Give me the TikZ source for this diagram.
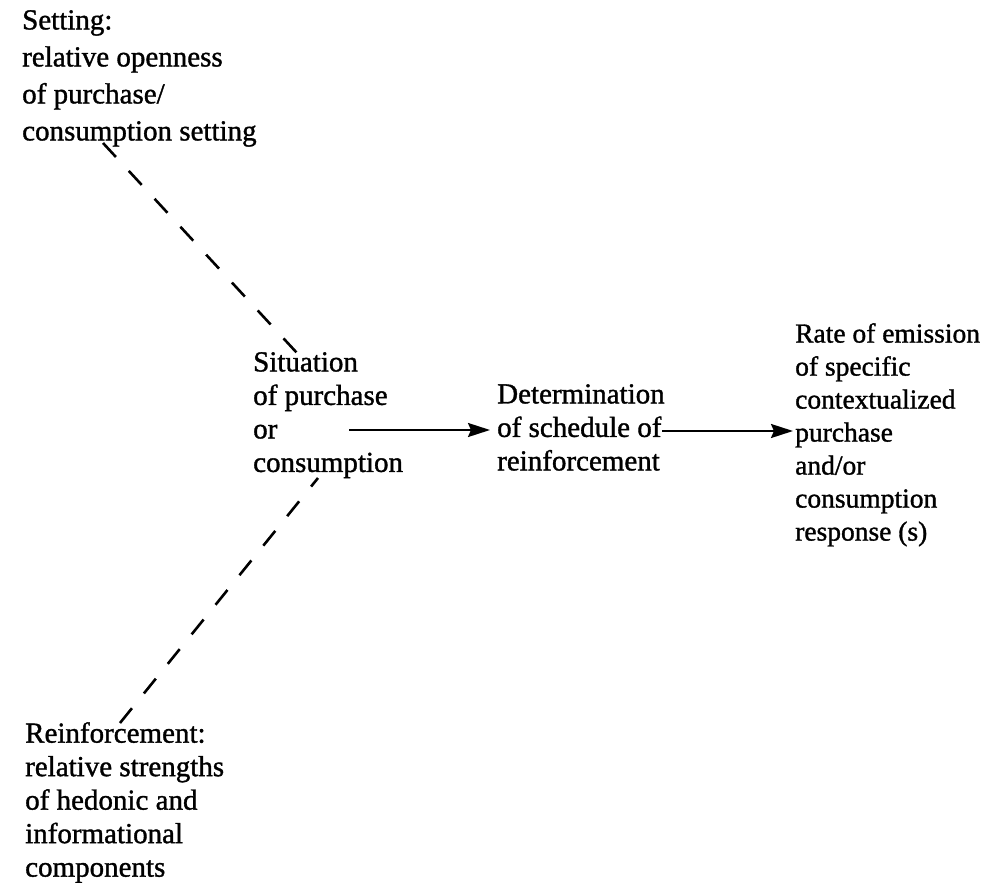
\documentclass[tikz,border=0pt]{standalone}
\usepackage{fontspec}
\setmainfont{Liberation Serif}[FakeBold=1.2]
\usetikzlibrary{arrows.meta}
\begin{document}
\begin{tikzpicture}[x=1pt,y=-1pt,
  blocktext/.style={anchor=north west, inner sep=0pt, align=left,
    font=\fontsize{29}{33.5}\selectfont},
  flow/.style={line width=2.3pt, -{Stealth[length=22pt,width=14pt,inset=3pt]}},
  link/.style={line width=2.6pt, dash pattern=on 19pt off 19pt}]
\useasboundingbox (0,0) rectangle (983,888);

% text blocks
\node[blocktext, font=\fontsize{29}{37}\selectfont] (setting) at (22,10)
  {Setting:\\relative openness\\of purchase/\\consumption setting};
\node[blocktext] (situation) at (253,352)
  {Situation\\of purchase\\or\\consumption};
\node[blocktext] (schedule) at (497,384)
  {Determination\\of schedule of\\reinforcement};
\node[blocktext, font=\fontsize{27.5}{33}\selectfont] (response) at (795,323)
  {Rate of emission\\of specific\\contextualized\\purchase\\and/or\\consumption\\response (s)};
\node[blocktext] (reinf) at (25,722)
  {Reinforcement:\\relative strengths\\of hedonic and\\informational\\components};

% connector end points
\coordinate (setfoot) at (103,143);
\coordinate (sittop) at (297,353);
\coordinate (reinftop) at (120,723);
\coordinate (sitfoot) at (318,478);
\coordinate (flowA) at (349,430);
\coordinate (flowB) at (662,431);

% dashed influences on the situation
\draw[link] (setfoot) -- (sittop);
\draw[link] (reinftop) -- (sitfoot);

% main chain
\draw[flow, shorten >=7pt] (flowA) -- (flowA -| schedule.west);
\draw[flow, shorten >=2pt] (flowB) -- (flowB -| response.west);
\end{tikzpicture}
\end{document}
